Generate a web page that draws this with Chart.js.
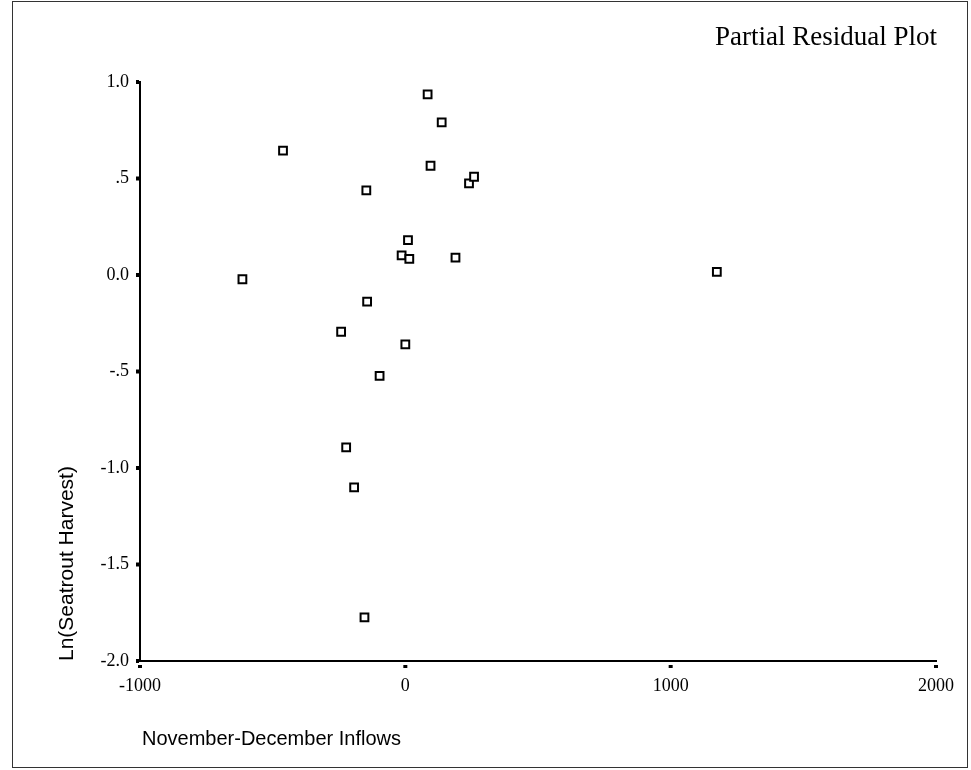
<!DOCTYPE html>
<html>
<head>
<meta charset="utf-8">
<script src="https://cdn.jsdelivr.net/npm/chart.js@4/dist/chart.umd.min.js"></script>
<style>
  html, body { margin: 0; padding: 0; background: #fff; }
  #wrap { width: 971px; height: 770px; position: relative; }
</style>
</head>
<body>
<div id="wrap"><canvas id="c" width="971" height="770"></canvas></div>
<script>
// Data
const inflows = [-614, -461, -147, -144, -242, -223, -193, -154, -97, 0, -14, 15, 10, 84, 137, 95, 240, 259, 189, 1174];
const lnHarvest = [-0.022, 0.644, 0.439, -0.138, -0.294, -0.893, -1.10, -1.774, -0.523, -0.359, 0.102, 0.084, 0.181, 0.936, 0.791, 0.566, 0.475, 0.509, 0.090, 0.016];
const xTicks = [-1000, 0, 1000, 2000];
const yTicks = [1.0, 0.5, 0.0, -0.5, -1.0, -1.5, -2.0];
const yTickLabels = ["1.0", ".5", "0.0", "-.5", "-1.0", "-1.5", "-2.0"];
const chartTitle = "Partial Residual Plot";
const xTitle = "November-December Inflows";
const yTitle = "Ln(Seatrout Harvest)";

const points = inflows.map((x, i) => ({ x: x, y: lnHarvest[i] }));

const decor = {
  id: 'decor',
  afterDraw(chart) {
    const ctx = chart.ctx;
    const xs = chart.scales.x, ys = chart.scales.y;
    ctx.save();
    // outer frame
    ctx.strokeStyle = '#333';
    ctx.lineWidth = 1;
    ctx.strokeRect(12.5, 1.5, 955, 766);
    // tick squares
    ctx.fillStyle = '#000';
    yTicks.forEach(v => {
      const py = ys.getPixelForValue(v);
      ctx.fillRect(xs.left - 4, py - 2, 3, 4);
    });
    xTicks.forEach(v => {
      const px = xs.getPixelForValue(v);
      ctx.fillRect(px - 2, ys.bottom + 4, 4, 3);
    });
    // title
    ctx.fillStyle = '#000';
    ctx.font = '27px "Liberation Serif", serif';
    ctx.textAlign = 'right';
    ctx.textBaseline = 'middle';
    ctx.fillText(chartTitle, 937, 38);
    // x title
    ctx.font = '20px "Liberation Sans", Arial, sans-serif';
    ctx.textAlign = 'left';
    ctx.fillText(xTitle, 142, 739);
    // y title
    ctx.font = '21px "Liberation Sans", Arial, sans-serif';
    ctx.translate(67, 661);
    ctx.rotate(-Math.PI / 2);
    ctx.textAlign = 'left';
    ctx.fillText(yTitle, 0, 0);
    ctx.restore();
  }
};

new Chart(document.getElementById('c'), {
  type: 'scatter',
  data: {
    datasets: [{
      data: points,
      pointStyle: 'rect',
      pointRadius: 5.5,
      pointHoverRadius: 5.5,
      borderColor: '#000',
      borderWidth: 2,
      backgroundColor: '#fff'
    }]
  },
  options: {
    responsive: false,
    animation: false,
    events: [],
    layout: { padding: { top: 82, right: 35, left: 0, bottom: 0 } },
    plugins: { legend: { display: false }, tooltip: { enabled: false }, title: { display: false } },
    scales: {
      x: {
        type: 'linear',
        min: -1000, max: 2000,
        afterFit(s) { s.height = 109; },
        afterBuildTicks(s) { s.ticks = xTicks.map(v => ({ value: v })); },
        grid: { display: false, drawTicks: false },
        border: { display: true, color: '#000', width: 2 },
        ticks: {
          padding: 14,
          color: '#000',
          font: { family: '"Liberation Serif", serif', size: 18 },
          callback: (v) => String(v)
        }
      },
      y: {
        type: 'linear',
        min: -2, max: 1,
        afterFit(s) { s.width = 140; },
        afterBuildTicks(s) { s.ticks = yTicks.map(v => ({ value: v })); },
        grid: { display: false, drawTicks: false },
        border: { display: true, color: '#000', width: 2 },
        ticks: {
          padding: 11,
          color: '#000',
          font: { family: '"Liberation Serif", serif', size: 18 },
          callback: (v) => {
            const i = yTicks.findIndex(t => Math.abs(t - v) < 1e-9);
            return i >= 0 ? yTickLabels[i] : '';
          }
        }
      }
    }
  },
  plugins: [decor]
});
</script>
</body>
</html>
